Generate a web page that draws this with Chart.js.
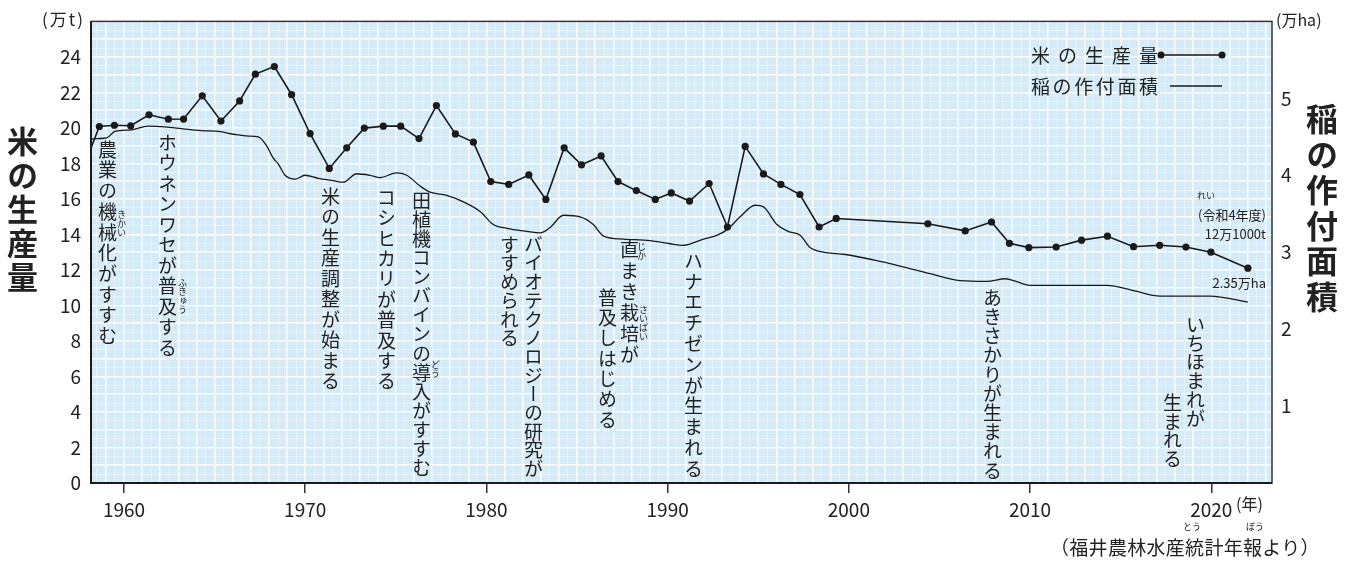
<!DOCTYPE html>
<html><head><meta charset="utf-8">
<script src="https://cdn.jsdelivr.net/npm/chart.js@4"></script>
<style>
html,body{margin:0;padding:0;background:#fff;}
#wrap{position:relative;width:1357px;height:563px;overflow:hidden;font-family:"Noto Sans CJK JP","Noto Sans",sans-serif;color:#222;}
canvas{position:absolute;left:0;top:0;}
.v{position:absolute;writing-mode:vertical-rl;font-size:19px;line-height:24px;width:24px;white-space:nowrap;}
.f{position:absolute;writing-mode:vertical-rl;font-size:9px;line-height:10px;width:10px;white-space:nowrap;}
.t{position:absolute;white-space:nowrap;}
.ttl{position:absolute;writing-mode:vertical-rl;font-weight:bold;white-space:nowrap;}
</style></head>
<body><div id="wrap"><canvas id="c" width="1357" height="563"></canvas>

<!-- axis titles and units -->
<div class="ttl" style="left:4px;top:126px;font-size:31px;line-height:36px;width:36px;letter-spacing:3px;">米の生産量</div>
<div class="ttl" style="left:1304px;top:103px;font-size:32px;line-height:36px;width:36px;letter-spacing:3.5px;">稲の作付面積</div>
<div class="t" style="left:42px;top:8px;font-size:17px;line-height:22px;letter-spacing:2px;">(万t)</div>
<div class="t" style="left:1276px;top:9px;font-size:16px;line-height:20px;">(万ha)</div>
<div class="t" style="left:1236px;top:493px;font-size:16px;line-height:20px;">(年)</div>
<div class="t" style="left:1050px;top:535px;font-size:19px;line-height:24px;letter-spacing:0.3px;">（福井農林水産統計年報より）</div>
<div class="t" style="left:1183px;top:522px;font-size:9px;line-height:10px;">とう</div>
<div class="t" style="left:1246px;top:522px;font-size:9px;line-height:10px;">ぼう</div>

<!-- legend -->
<div class="t" style="left:1031px;top:43px;font-size:19px;line-height:24px;letter-spacing:8px;">米の生産量</div>
<div class="t" style="left:1031px;top:74px;font-size:19px;line-height:24px;letter-spacing:2.6px;">稲の作付面積</div>

<!-- end labels -->
<div class="t" style="left:1197px;top:191px;font-size:9px;line-height:10px;">れい</div>
<div class="t" style="right:91px;top:207px;font-size:13px;line-height:16px;">(令和4年度)</div>
<div class="t" style="right:91px;top:226px;font-size:13px;line-height:16px;">12万1000t</div>
<div class="t" style="right:91px;top:275px;font-size:13px;line-height:16px;">2.35万ha</div>

<!-- event annotations (vertical) -->
<div class="v" style="left:95px;top:140px;letter-spacing:1.7px;">農業の機械化がすすむ</div>
<div class="f" style="left:116px;top:210px;">きかい</div>
<div class="v" style="left:155px;top:133px;letter-spacing:1.5px;">ホウネンワセが普及する</div>
<div class="f" style="left:177px;top:278px;">ふきゅう</div>
<div class="v" style="left:318px;top:187px;letter-spacing:1.5px;">米の生産調整が始まる</div>
<div class="v" style="left:374px;top:188px;letter-spacing:1.4px;">コシヒカリが普及する</div>
<div class="v" style="left:409px;top:191px;letter-spacing:0.1px;">田植機コンバインの導入がすすむ</div>
<div class="f" style="left:430px;top:360px;">どう</div>
<div class="v" style="left:521px;top:235px;letter-spacing:-0.3px;">バイオテクノロジーの研究が</div>
<div class="v" style="left:497px;top:235px;letter-spacing:-0.3px;">すすめられる</div>
<div class="v" style="left:617px;top:240px;letter-spacing:2px;">直まき栽培が</div>
<div class="f" style="left:636px;top:242px;">じか</div>
<div class="f" style="left:638px;top:305px;">さいばい</div>
<div class="v" style="left:595px;top:288px;letter-spacing:1.3px;">普及しはじめる</div>
<div class="v" style="left:681px;top:251px;letter-spacing:1.8px;">ハナエチゼンが生まれる</div>
<div class="v" style="left:980px;top:288px;letter-spacing:0.2px;">あきさかりが生まれる</div>
<div class="v" style="left:1183px;top:315px;letter-spacing:-0.2px;">いちほまれが</div>
<div class="v" style="left:1160px;top:393px;letter-spacing:-0.2px;">生まれる</div>
</div>

<script>
// ---- data ----
const prodYears = [1957.64, 1958.64, 1959.47, 1960.37, 1961.38, 1962.45, 1963.29, 1964.32, 1965.35, 1966.38,
  1967.25, 1968.30, 1969.25, 1970.27, 1971.33, 1972.29, 1973.26, 1974.31, 1975.27, 1976.28,
  1977.24, 1978.29, 1979.28, 1980.24, 1981.23, 1982.34, 1983.28, 1984.29, 1985.25, 1986.33,
  1987.26, 1988.27, 1989.32, 1990.20, 1991.21, 1992.29, 1993.30, 1994.28, 1995.29, 1996.25,
  1997.30, 1998.36, 1999.30, 2004.36, 2006.42, 2007.87, 2008.86, 2009.93, 2011.44, 2012.84,
  2014.27, 2015.71, 2017.15, 2018.60, 2019.98, 2022.02];
const prodValues = [17.45, 20.08, 20.15, 20.12, 20.74, 20.49, 20.50, 21.81, 20.39, 21.52,
  23.03, 23.46, 21.87, 19.68, 17.72, 18.88, 19.99, 20.10, 20.10, 19.40,
  21.26, 19.66, 19.20, 16.98, 16.82, 17.35, 15.97, 18.88, 17.92, 18.42,
  16.98, 16.47, 15.97, 16.34, 15.88, 16.87, 14.42, 18.96, 17.41, 16.82,
  16.25, 14.42, 14.90, 14.60, 14.20, 14.70, 13.50, 13.26, 13.29, 13.68,
  13.90, 13.31, 13.39, 13.29, 13.00, 12.10];

const areaYears = [1958.2, 1958.58, 1959.05, 1959.5, 1960.43, 1961.34, 1962.26, 1963.37, 1964.29, 1965.2,
  1966.13, 1966.86, 1967.41, 1967.88, 1968.22, 1968.52, 1968.89, 1969.44, 1969.99, 1970.72,
  1971.55, 1972.1, 1972.84, 1973.58, 1974.13, 1975.05, 1975.6, 1976.34, 1976.89, 1977.81,
  1978.73, 1979.65, 1980.38, 1981.12, 1982.23, 1982.96, 1983.51, 1984.25, 1985.17, 1985.9,
  1986.46, 1987.56, 1989.03, 1990.14, 1990.87, 1991.98, 1992.71, 1993.27, 1994.0, 1994.83,
  1995.29, 1996.03, 1996.65, 1997.31, 1997.86, 1998.6, 1999.8, 2001.36, 2002.83, 2004.49,
  2006.14, 2007.62, 2008.63, 2009.09, 2010.01, 2014.24, 2015.71, 2017.18, 2019.94, 2022.02];
const areaValues = [4.47, 4.477, 4.485, 4.57, 4.59, 4.64, 4.63, 4.60, 4.58, 4.57,
  4.53, 4.51, 4.50, 4.38, 4.23, 4.145, 4.00, 3.95, 4.00, 3.96,
  3.93, 3.91, 4.02, 4.00, 3.97, 4.03, 4.00, 3.86, 3.78, 3.74,
  3.655, 3.53, 3.36, 3.31, 3.27, 3.25, 3.32, 3.48, 3.46, 3.36,
  3.21, 3.17, 3.15, 3.11, 3.09, 3.17, 3.22, 3.29, 3.46, 3.61,
  3.59, 3.36, 3.27, 3.22, 3.06, 3.00, 2.97, 2.90, 2.82, 2.72,
  2.63, 2.62, 2.655, 2.63, 2.57, 2.57, 2.50, 2.43, 2.43, 2.35];

const xTickYears = [1960, 1970, 1980, 1990, 2000, 2010, 2020];
const leftTickLabels = [0, 2, 4, 6, 8, 10, 12, 14, 16, 18, 20, 22, 24];
const rightTickLabels = [1, 2, 3, 4, 5];

// ---- chart ----
const BG = '#d5ebf8';
const INK = '#1a1a1a';
const FONT = '"Noto Sans CJK JP", "Noto Sans", sans-serif';

const plotDeco = {
  id: 'plotDeco',
  beforeDraw(chart) {
    const a = chart.chartArea, c = chart.ctx;
    c.save(); c.fillStyle = BG; c.fillRect(a.left, a.top, a.right - a.left, a.bottom - a.top); c.restore();
  },
  afterDraw(chart) {
    const a = chart.chartArea, c = chart.ctx;
    c.save();
    c.strokeStyle = '#333'; c.lineWidth = 1.5;
    c.strokeRect(a.left, a.top, a.right - a.left, a.bottom - a.top);
    c.strokeStyle = INK; c.lineWidth = 2;
    c.beginPath(); c.moveTo(a.left, a.top); c.lineTo(a.left, a.bottom); c.lineTo(a.right, a.bottom); c.stroke();
    // legend symbols
    const r1 = 55, r2 = 86, x1 = a.right - 111, x2 = a.right - 50, x3 = a.right - 102;
    c.strokeStyle = INK; c.fillStyle = INK; c.lineWidth = 1.5;
    c.beginPath(); c.moveTo(x1, r1); c.lineTo(x2, r1); c.stroke();
    [x1, x2].forEach(x => { c.beginPath(); c.arc(x, r1, 3.5, 0, Math.PI * 2); c.fill(); });
    c.beginPath(); c.moveTo(x3, r2); c.lineTo(x2, r2); c.stroke();
    c.restore();
  }
};

function halfSteps(lo, hi) { const t = []; for (let v = lo; v <= hi + 1e-9; v += 0.5) t.push({ value: v }); return t; }
const gridColor = ctx => Number.isInteger(ctx.tick.value) ? 'rgba(255,255,255,0.9)' : 'rgba(255,255,255,0.42)';
const gridWidth = ctx => Number.isInteger(ctx.tick.value) ? 1.5 : 1;

new Chart(document.getElementById('c'), {
  type: 'line',
  data: {
    datasets: [
      {
        label: '米の生産量',
        data: prodYears.map((y, i) => ({ x: y, y: prodValues[i] })),
        yAxisID: 'y', borderColor: INK, backgroundColor: INK, borderWidth: 1.6,
        pointRadius: 3.6, pointHoverRadius: 3.6, pointBackgroundColor: INK, pointBorderWidth: 0,
        tension: 0, clip: 0
      },
      {
        label: '稲の作付面積',
        data: areaYears.map((y, i) => ({ x: y, y: areaValues[i] })),
        yAxisID: 'y2', borderColor: INK, borderWidth: 1.3, pointRadius: 0,
        cubicInterpolationMode: 'monotone', clip: 0
      }
    ]
  },
  options: {
    responsive: false, animation: false, devicePixelRatio: 1,
    layout: { padding: { top: 13, left: 0, right: 0, bottom: 0 } },
    plugins: { legend: { display: false }, tooltip: { enabled: false } },
    scales: {
      x: {
        type: 'linear', position: 'bottom', min: 1958.18, max: 2023.35,
        afterBuildTicks: s => { s.ticks = halfSteps(1958.5, 2023); },
        afterFit: s => { s.height = 80; },
        border: { display: false },
        grid: {
          color: gridColor, lineWidth: gridWidth, drawTicks: true, tickLength: 10, tickWidth: 1.5,
          tickColor: ctx => xTickYears.includes(ctx.tick.value) ? '#333' : 'rgba(0,0,0,0)'
        },
        ticks: {
          autoSkip: false, maxRotation: 0, padding: 5, color: '#222',
          font: { family: FONT, size: 19 },
          callback: v => xTickYears.includes(v) ? String(v) : ''
        }
      },
      y: {
        position: 'left', min: 0, max: 26,
        afterBuildTicks: s => { s.ticks = halfSteps(0, 26); },
        afterFit: s => { s.width = 91; },
        border: { display: false },
        grid: { color: gridColor, lineWidth: gridWidth, drawTicks: false },
        ticks: {
          autoSkip: false, padding: 10, color: '#222',
          font: { family: FONT, size: 19 },
          callback: v => leftTickLabels.includes(v) ? String(v) : ''
        }
      },
      y2: {
        position: 'right', min: 0, max: 6,
        afterBuildTicks: s => { s.ticks = rightTickLabels.map(v => ({ value: v })); },
        afterFit: s => { s.width = 85; },
        border: { display: false },
        grid: { display: false, drawTicks: false },
        ticks: {
          autoSkip: false, padding: 9, color: '#222',
          font: { family: FONT, size: 19 },
          callback: v => String(v)
        }
      }
    }
  },
  plugins: [plotDeco]
});
</script>
</body></html>
